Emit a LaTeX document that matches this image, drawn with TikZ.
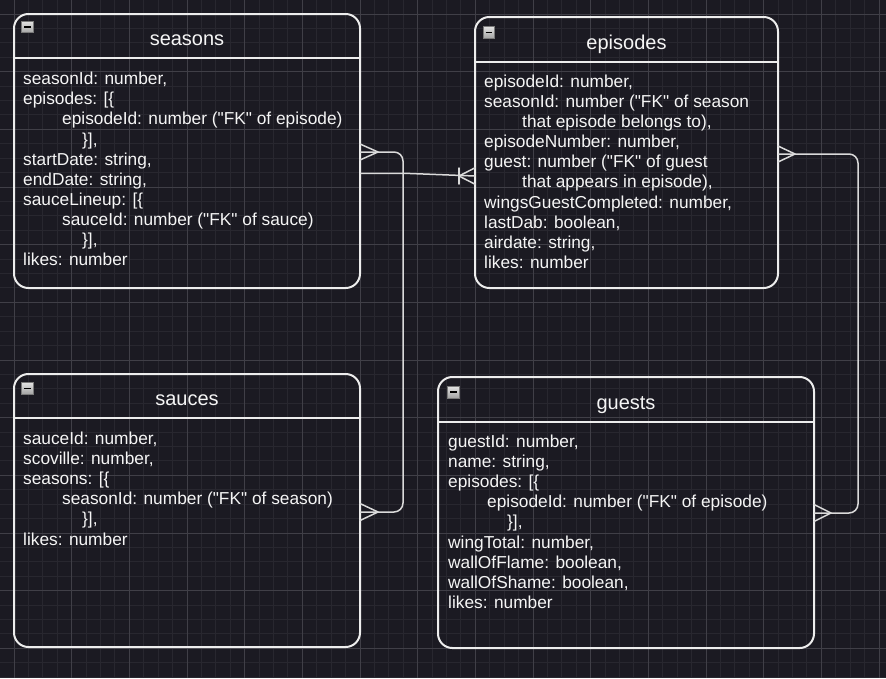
\documentclass[tikz,border=0pt]{standalone}
\usepackage{fontspec}
\newfontfamily\arialf{Liberation Sans}
\definecolor{bg}{HTML}{1B1A22}
\definecolor{gminorc}{HTML}{28272F}
\definecolor{gmajorc}{HTML}{403F47}
\definecolor{boxc}{HTML}{EDEDED}
\definecolor{linec}{HTML}{DADADA}
\definecolor{txtc}{HTML}{F5F5F5}
\definecolor{icontop}{HTML}{E2E2E2}
\definecolor{iconbot}{HTML}{A4A4A4}
\definecolor{iconb}{HTML}{7A7A7A}
\newcommand\erline[4]{\node[txt] (#1) at (#2,#3) {#4};}
\begin{document}
\begin{tikzpicture}[x=1pt,y=-1pt,
  gminor/.style={draw=gminorc,line width=1pt},
  gmajor/.style={draw=gmajorc,line width=1pt},
  erbox/.style={draw=boxc,line width=2pt,rounded corners=14.4pt,inner sep=0pt,outer sep=0pt,anchor=north west},
  sepline/.style={draw=boxc,line width=2pt},
  title/.style={text=txtc,font=\arialf\fontsize{20}{24}\selectfont,anchor=base,inner sep=0pt},
  txt/.style={text=txtc,font=\arialf\fontsize{17.3}{20}\selectfont,anchor=base west,inner sep=0pt},
  conn/.style={draw=linec,line width=1.5pt,rounded corners=9pt,line join=round},
  foot/.style={draw=linec,line width=1.5pt,line cap=round},
  icon/.style={draw=iconb,line width=0.8pt,top color=icontop,bottom color=iconbot,minimum size=11.5pt,inner sep=0pt,anchor=north west,
    path picture={\draw[black,line width=1.4pt] ([xshift=2.6pt]path picture bounding box.west) -- ([xshift=-2.6pt]path picture bounding box.east);}}
]
\useasboundingbox (0,0) rectangle (886,678);
\fill[bg] (0,0) rectangle (886,678);
% grid
\foreach \i in {-1,...,61} {\draw[gminor] ({14+\i*14.41667},0) -- ({14+\i*14.41667},678);}
\foreach \j in {-1,...,46} {\draw[gminor] (0,{14+\j*14.41667}) -- (886,{14+\j*14.41667});}
\foreach \i in {0,...,15} {\draw[gmajor] ({14+\i*57.66667},0) -- ({14+\i*57.66667},678);}
\foreach \j in {0,...,11} {\draw[gmajor] (0,{14+\j*57.66667}) -- (886,{14+\j*57.66667});}

% boxes
\node[erbox,minimum width=346pt,minimum height=274pt] (seasons) at (14,14) {};
\node[erbox,minimum width=303pt,minimum height=271pt] (episodes) at (475,17) {};
\node[erbox,minimum width=346pt,minimum height=273pt] (sauces) at (14,374) {};
\node[erbox,minimum width=376pt,minimum height=271pt] (guests) at (438,377) {};

% header separators
\draw[sepline] (seasons.west |- 0,58) -- (seasons.east |- 0,58);
\draw[sepline] (episodes.west |- 0,62) -- (episodes.east |- 0,62);
\draw[sepline] (sauces.west |- 0,418) -- (sauces.east |- 0,418);
\draw[sepline] (guests.west |- 0,422) -- (guests.east |- 0,422);

% icons
\node[icon] (seasonsicon) at (21.3,20.8) {};
\node[icon] (episodesicon) at (482.7,26.2) {};
\node[icon] (saucesicon) at (21.3,382.2) {};
\node[icon] (guestsicon) at (447.3,386) {};

% titles
\node[title] (seasonstitle) at (187,45) {seasons};
\node[title] (episodestitle) at (626.5,49) {episodes};
\node[title] (saucestitle) at (187,405) {sauces};
\node[title] (gueststitle) at (626,409) {guests};

% seasons body
\erline{s1}{23}{84.6}{seasonId: number,}
\erline{s2}{23}{104.75}{episodes: [\{}
\erline{s3}{62}{124.9}{episodeId: number ("FK" of episode)}
\erline{s4}{82}{145.05}{\}],}
\erline{s5}{23}{165.2}{startDate: string,}
\erline{s6}{23}{185.35}{endDate: string,}
\erline{s7}{23}{205.5}{sauceLineup: [\{}
\erline{s8}{62}{225.65}{sauceId: number ("FK" of sauce)}
\erline{s9}{82}{245.8}{\}],}
\erline{s10}{23}{265.95}{likes: number}

% episodes body
\erline{e1}{484}{87.1}{episodeId: number,}
\erline{e2}{484}{107.25}{seasonId: number ("FK" of season}
\erline{e3}{522}{127.4}{that episode belongs to),}
\erline{e4}{484}{147.55}{episodeNumber: number,}
\erline{e5}{484}{167.7}{guest: number ("FK" of guest}
\erline{e6}{522}{187.85}{that appears in episode),}
\erline{e7}{484}{208}{wingsGuestCompleted: number,}
\erline{e8}{484}{228.15}{lastDab: boolean,}
\erline{e9}{484}{248.3}{airdate: string,}
\erline{e10}{484}{268.45}{likes: number}

% sauces body
\erline{c1}{23}{444.3}{sauceId: number,}
\erline{c2}{23}{464.45}{scoville: number,}
\erline{c3}{23}{484.6}{seasons: [\{}
\erline{c4}{62}{504.75}{seasonId: number ("FK" of season)}
\erline{c5}{82}{524.9}{\}],}
\erline{c6}{23}{545.05}{likes: number}

% guests body
\erline{g1}{448}{447.3}{guestId: number,}
\erline{g2}{448}{467.45}{name: string,}
\erline{g3}{448}{487.6}{episodes: [\{}
\erline{g4}{487}{507.75}{episodeId: number ("FK" of episode)}
\erline{g5}{507}{527.9}{\}],}
\erline{g6}{448}{548.05}{wingTotal: number,}
\erline{g7}{448}{568.2}{wallOfFlame: boolean,}
\erline{g8}{448}{588.35}{wallOfShame: boolean,}
\erline{g9}{448}{608.5}{likes: number}

% connector seasons -- sauces (many to many)
\draw[conn] (seasons.east |- 0,152) -- (403,152) -- (403,512) -- (sauces.east |- 0,512);
\draw[foot] (378,152) -- (seasons.east |- 0,144);
\draw[foot] (378,152) -- (seasons.east |- 0,160);
\draw[foot] (378,512) -- (sauces.east |- 0,503.5);
\draw[foot] (378,512) -- (sauces.east |- 0,520.5);

% connector seasons -- episodes (one to many)
\draw[conn,sharp corners] (seasons.east |- 0,173.3) -- (405,173.3) -- (episodes.west |- 0,176);
\draw[foot] (459,176) -- (episodes.west |- 0,167.8);
\draw[foot] (459,176) -- (episodes.west |- 0,184.2);
\draw[foot] (459,168) -- (459,184);

% connector episodes -- guests (many to many)
\draw[conn] (episodes.east |- 0,154) -- (858,154) -- (858,513) -- (guests.east |- 0,513);
\draw[foot] (795,154) -- (episodes.east |- 0,146);
\draw[foot] (795,154) -- (episodes.east |- 0,162);
\draw[foot] (831,513) -- (guests.east |- 0,504.5);
\draw[foot] (831,513) -- (guests.east |- 0,521.5);
\end{tikzpicture}
\end{document}
